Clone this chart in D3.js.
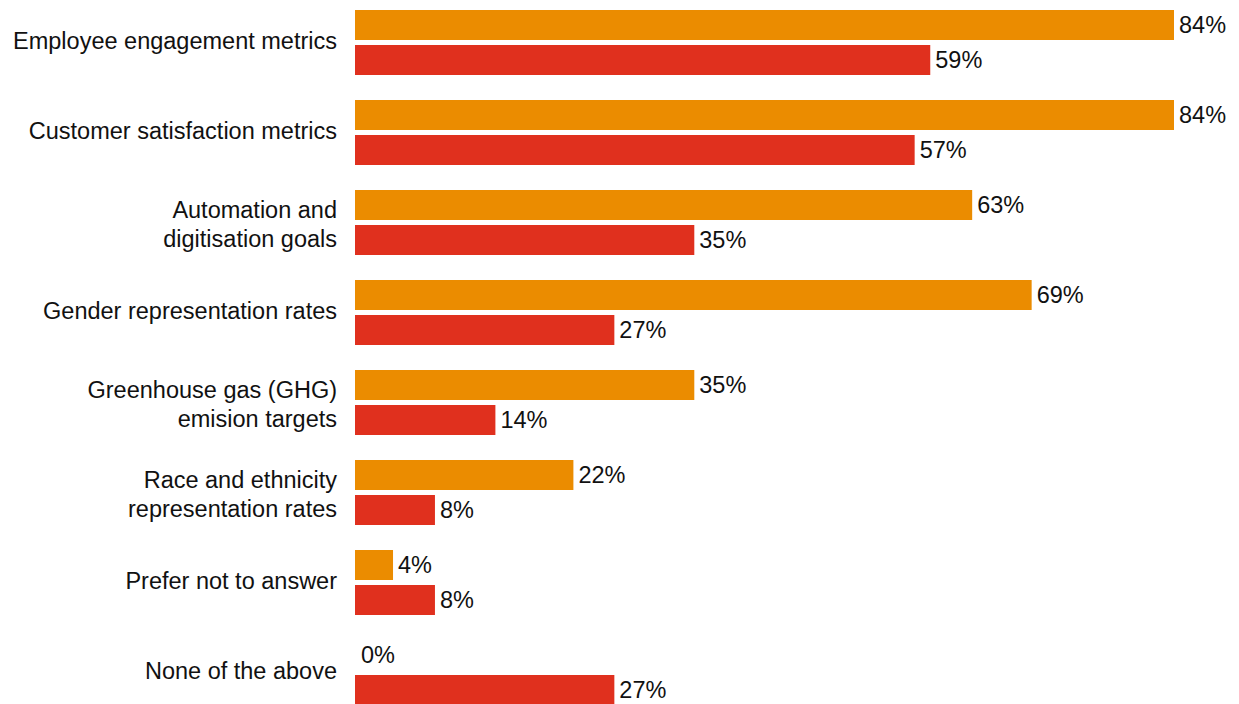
<!DOCTYPE html>
<html>
<head>
<meta charset="utf-8">
<script src="https://cdn.jsdelivr.net/npm/d3@7"></script>
<style>
  body { margin: 0; background: #fff; }
  text { font-family: "Liberation Sans", Arial, Helvetica, sans-serif; fill: #111; }
</style>
</head>
<body>
<script>
const categories = [
  ["Employee engagement metrics"],
  ["Customer satisfaction metrics"],
  ["Automation and", "digitisation goals"],
  ["Gender representation rates"],
  ["Greenhouse gas (GHG)", "emision targets"],
  ["Race and ethnicity", "representation rates"],
  ["Prefer not to answer"],
  ["None of the above"]
];
// bar lengths; labels are the rounded values
const seriesA = [84, 84, 63.3, 69.4, 34.8, 22.4, 3.9, 0];
const seriesB = [59, 57.4, 34.8, 26.6, 14.4, 8.2, 8.2, 26.6];
const colors = ["#EB8C00", "#E0301E"];

const width = 1239, height = 704;
const left = 355;
const step = 90, barH = 30, barGap = 5;
const fmt = d3.format(".0f");

const svg = d3.select("body").append("svg")
  .attr("width", width)
  .attr("height", height);

const x = d3.scaleLinear().domain([0, 84]).range([left, 1174]);

const y0 = d3.scaleBand()
  .domain(d3.range(categories.length))
  .range([10, 10 + categories.length * step]);

const y1 = d3.scaleBand()
  .domain([0, 1])
  .range([0, 2 * barH + barGap])
  .paddingInner(barGap / (barH + barGap));

const groupH = 2 * barH + barGap;

const groups = svg.selectAll("g.grp")
  .data(categories.map((c, i) => ({c, i, vals: [seriesA[i], seriesB[i]]})))
  .enter().append("g")
  .attr("class", "grp")
  .attr("transform", d => "translate(0," + y0(d.i) + ")");

groups.selectAll("rect")
  .data(d => d.vals)
  .enter().append("rect")
  .attr("x", x(0))
  .attr("y", (v, j) => y1(j))
  .attr("height", y1.bandwidth())
  .attr("width", v => x(v) - x(0))
  .attr("fill", (v, j) => colors[j]);

groups.selectAll("text.val")
  .data(d => d.vals)
  .enter().append("text")
  .attr("class", "val")
  .attr("x", v => x(v) + (v === 0 ? 6 : 5))
  .attr("y", (v, j) => y1(j) + y1.bandwidth() / 2)
  .attr("dy", "0.35em")
  .attr("font-size", 23.5)
  .text(v => fmt(v) + "%");

groups.append("text")
  .attr("class", "cat")
  .attr("x", 337)
  .attr("y", groupH / 2)
  .attr("text-anchor", "end")
  .attr("font-size", 23.5)
  .each(function(d) {
    const t = d3.select(this);
    const n = d.c.length;
    d.c.forEach((line, k) => {
      t.append("tspan")
        .attr("x", 337)
        .attr("dy", k === 0 ? (n === 1 ? "0.27em" : "-0.2em") : "1.23em")
        .text(line);
    });
  });
</script>
</body>
</html>
